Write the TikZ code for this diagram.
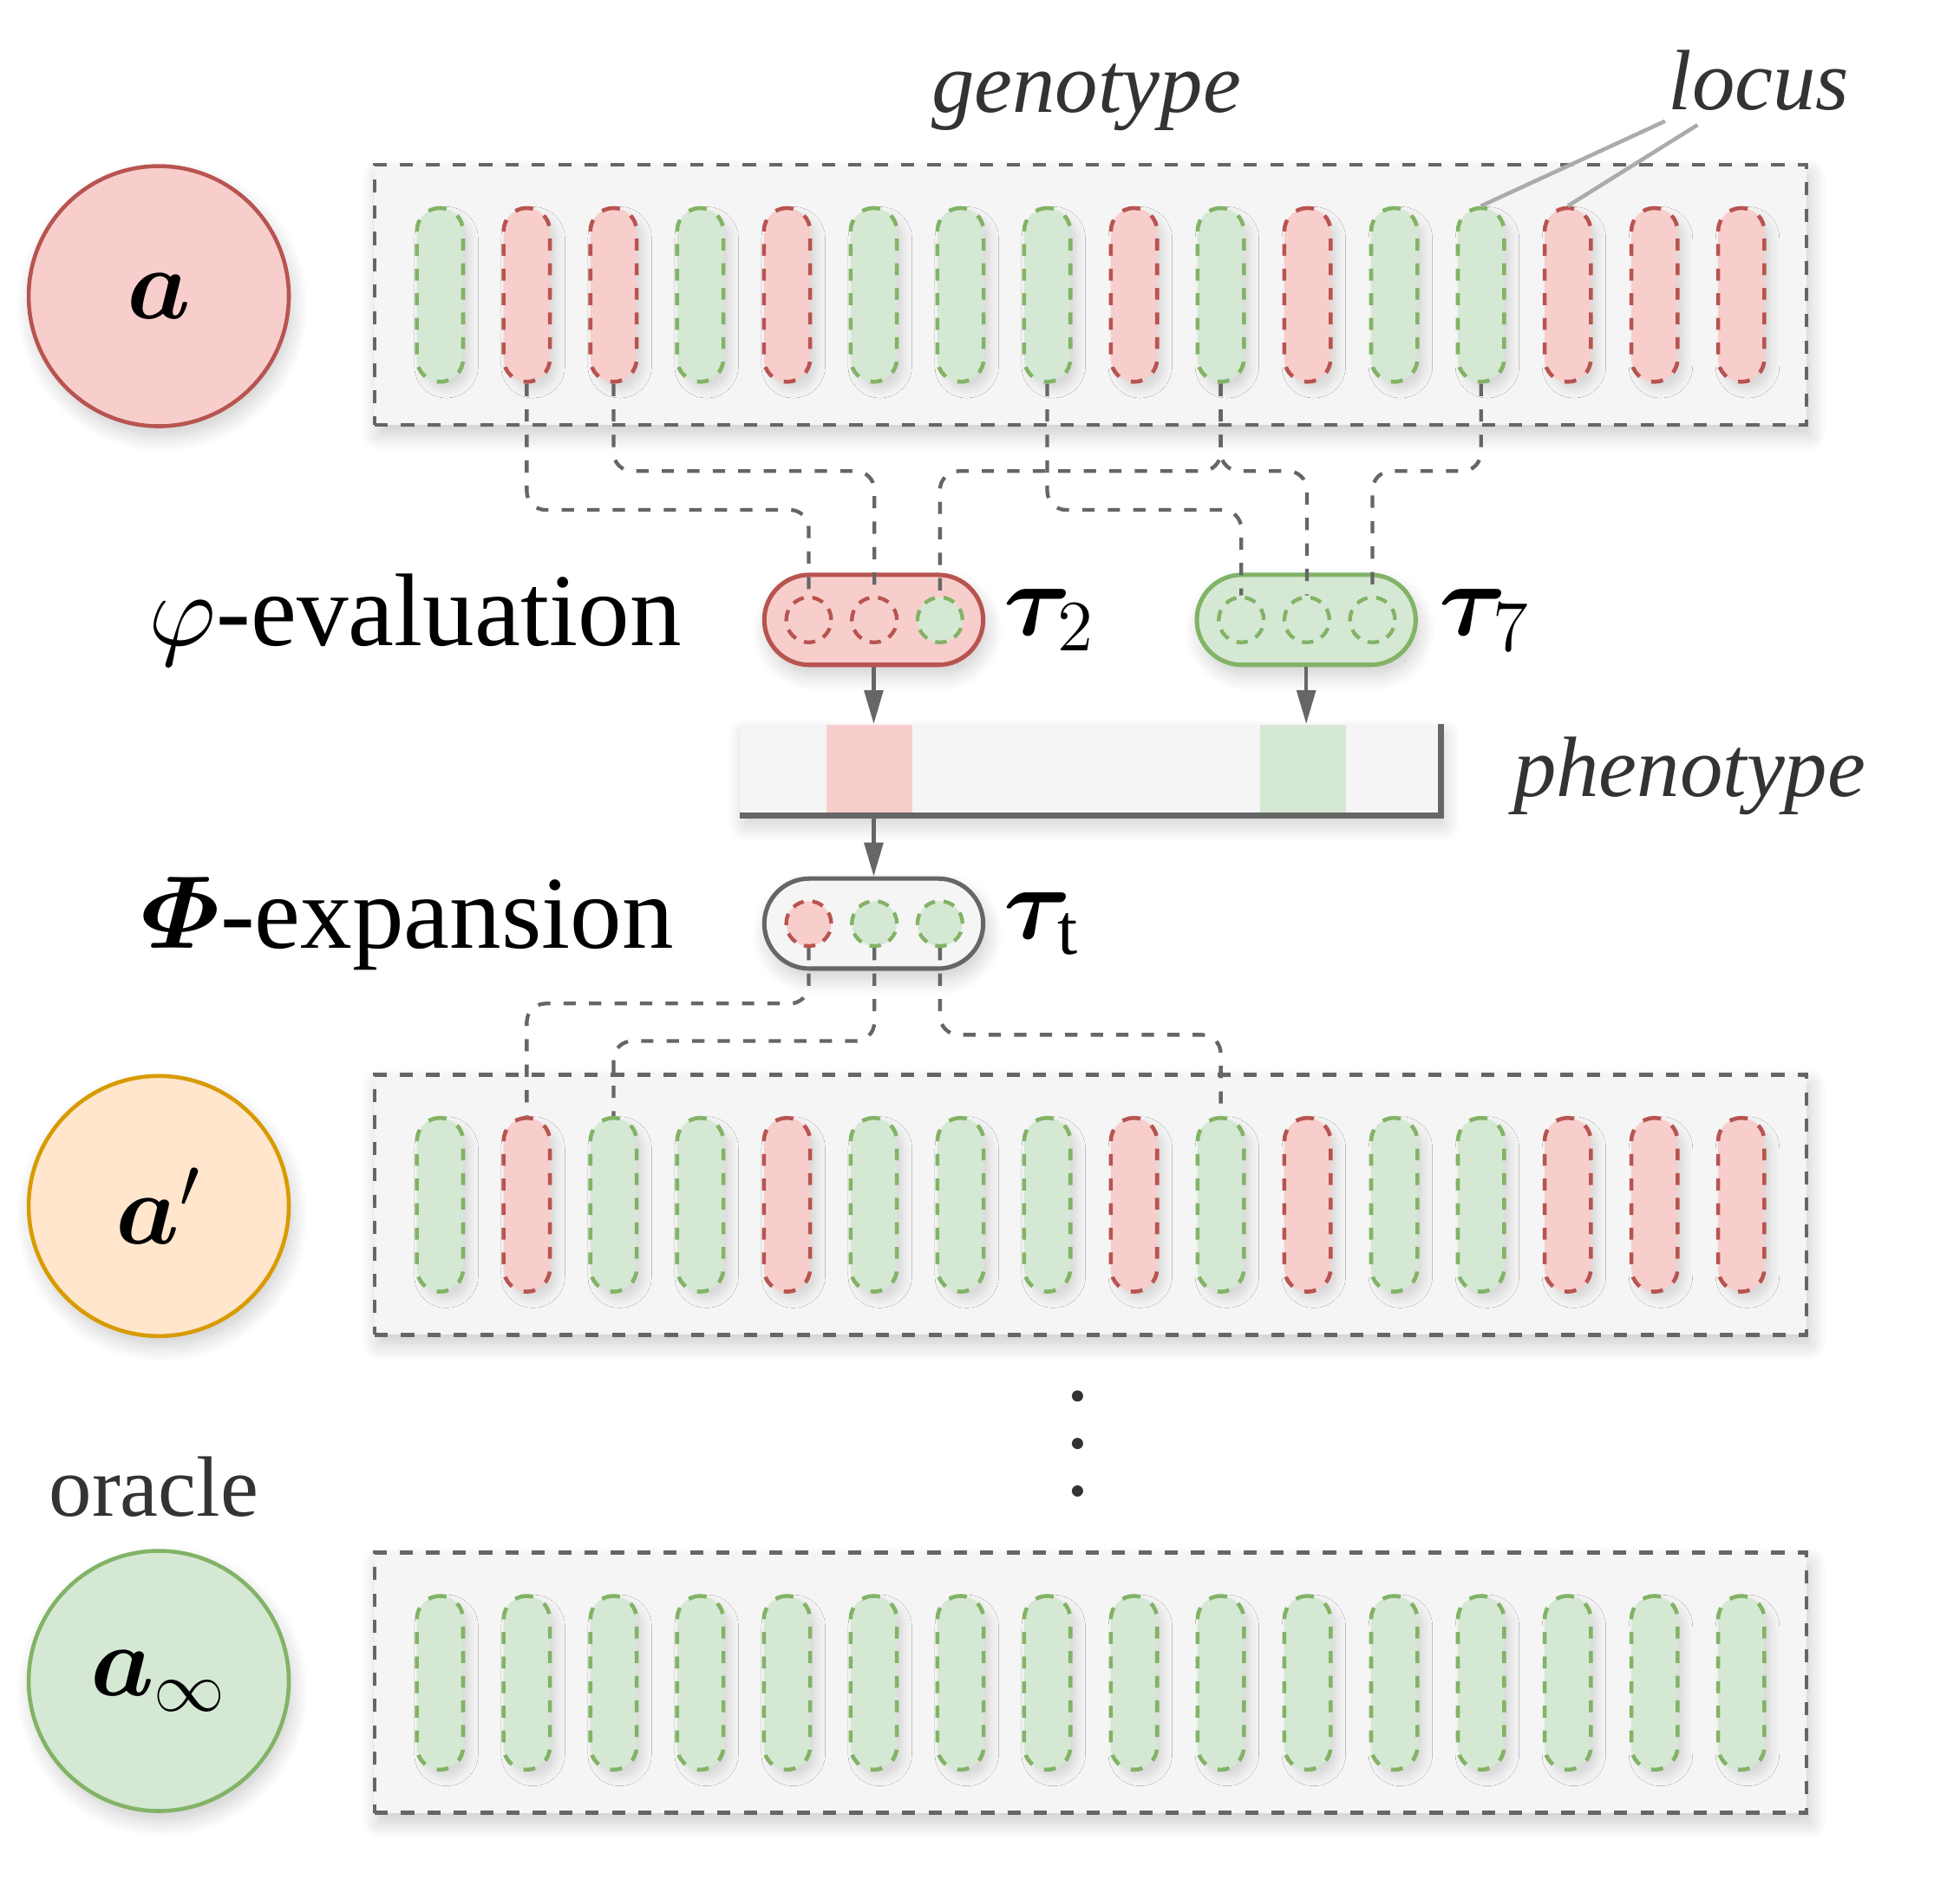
\documentclass[tikz,border=0pt]{standalone}
\usepackage{fix-cm}
\usepackage{amsmath}
\usepackage{bm}
\usepackage{fontspec}
\setmainfont{Liberation Serif}
\usetikzlibrary{positioning,arrows.meta,shadows.blur}

\DeclareFontShape{OML}{cmm}{m}{it}{<-6>cmmi5<6-7>cmmi6<7-8>cmmi7<8-9>cmmi8<9-10>cmmi9<10->cmmi10}{}
\DeclareFontShape{OMS}{cmsy}{m}{n}{<-6>cmsy5<6-7>cmsy6<7-8>cmsy7<8-9>cmsy8<9-10>cmsy9<10->cmsy10}{}

\definecolor{redfill}{HTML}{F8CECC}
\definecolor{redline}{HTML}{B85450}
\definecolor{greenfill}{HTML}{D5E8D4}
\definecolor{greenline}{HTML}{82B366}
\definecolor{orangefill}{HTML}{FFE6CC}
\definecolor{orangeline}{HTML}{D79B00}
\definecolor{grayfill}{HTML}{F5F5F5}
\definecolor{grayline}{HTML}{666666}
\definecolor{textgray}{HTML}{333333}

\begin{document}
\begin{tikzpicture}[x=0.01cm, y=0.01cm,
    soft/.style={blur shadow={shadow xshift=0.03cm, shadow yshift=-0.08cm, shadow blur radius=0.13cm, shadow blur steps=12, shadow opacity=20}},
    softer/.style={blur shadow={shadow xshift=0.05cm, shadow yshift=-0.06cm, shadow blur radius=0.07cm, shadow blur steps=6, shadow opacity=12}},
    agent/.style={circle, minimum size=2.08cm, line width=0.9pt, soft, font=\fontsize{23}{28}\selectfont},
    genome/.style={rectangle, draw=grayline, fill=grayfill, line width=0.9pt, dash pattern=on 3pt off 3pt, minimum width=11.45cm, minimum height=2.08cm, inner sep=0pt, soft},
    locus/.style={rectangle, rounded corners=0.185cm, minimum width=0.37cm, minimum height=1.39cm, inner sep=0pt, line width=0.9pt, dash pattern=on 2.7pt off 2.9pt, softer},
    locusR/.style={locus, draw=redline, fill=redfill},
    locusG/.style={locus, draw=greenline, fill=greenfill},
    tau/.style={rectangle, rounded corners=0.36cm, minimum width=1.75cm, minimum height=0.72cm, inner sep=0pt, line width=1pt, soft},
    slot/.style={circle, minimum size=0.36cm, inner sep=0pt, line width=0.85pt, dash pattern=on 2.6pt off 2pt},
    slotR/.style={slot, draw=redline, fill=redfill},
    slotG/.style={slot, draw=greenline, fill=greenfill},
    pheno/.style={rectangle, fill=grayfill, minimum width=5.59cm, minimum height=0.72cm, inner sep=0pt, soft},
    cell/.style={rectangle, minimum width=0.69cm, minimum height=0.72cm, inner sep=0pt},
    link/.style={grayline, line width=0.85pt, dash pattern=on 2.8pt off 3pt, rounded corners=0.15cm},
    arrow/.style={-{Triangle[length=0.27cm,width=0.15cm]}, grayline, line width=0.8pt},
    pointer/.style={black!33, line width=0.9pt},
    vdot/.style={circle, fill=textgray, minimum size=0.09cm, inner sep=0pt},
    big/.style={font=\fontsize{23.5}{28}\selectfont, inner sep=0pt},
    note/.style={font=\fontsize{19.5}{24}\selectfont\itshape, text=textgray, inner sep=0pt},
    tag/.style={font=\fontsize{19.5}{24}\selectfont, text=textgray, inner sep=0pt}
]
\useasboundingbox (0,0) rectangle (1568,1519);

\node[agent, draw=redline, fill=redfill] (A) at (127,1282) {$\bm{a}$};
\node[agent, draw=orangeline, fill=orangefill] (Ap) at (127,554) {$\bm{a}'$};
\node[agent, draw=greenline, fill=greenfill] (Ainf) at (127,174) {$\bm{a}_\infty$};

\node[genome] (GA) at (872.5,1283) {};
\node[genome] (GAp) at (872.5,555) {};
\node[genome] (GAinf) at (872.5,172.5) {};

\foreach \c [count=\i] in {G,R,R,G,R,G,G,G,R,G,R,G,G,R,R,R}
    \node[locus\c] (a\i) at ({352+69.4*(\i-1)},1283) {};
\foreach \c [count=\i] in {G,R,G,G,R,G,G,G,R,G,R,G,G,R,R,R}
    \node[locus\c] (b\i) at ({352+69.4*(\i-1)},555) {};
\foreach \i in {1,...,16}
    \node[locusG] (c\i) at ({352+69.4*(\i-1)},172.5) {};

\node[note, anchor=base] (geno) at (869,1429) {genotype};
\node[note, anchor=base] (loc) at (1407,1431) {locus};
\coordinate (lc1) at (1332,1422);
\coordinate (lc2) at (1358,1419);
\draw[pointer] (lc1) -- (a13.north);
\draw[pointer] (lc2) -- (a14.north);

\node[tau, draw=redline, fill=redfill] (T2) at (699,1023) {};
\node[slotR] (T2c1) at (647,1023) {};
\node[slotR] (T2c2) at (699.5,1023) {};
\node[slotG] (T2c3) at (752,1023) {};
\node[tau, draw=greenline, fill=greenfill] (T7) at (1045,1023) {};
\node[slotG] (T7c1) at (993,1023) {};
\node[slotG] (T7c2) at (1045.5,1023) {};
\node[slotG] (T7c3) at (1098,1023) {};

\node[big, left=0.64cm of T2] (eval) {$\varphi$-evaluation};
\node[big, right=0.14cm of T2] (tau2) {$\bm{\tau}_2$};
\node[big, right=0.16cm of T7] (tau7) {$\bm{\tau}_7$};

\coordinate (hi) at (0,1142);
\coordinate (lo) at (0,1111);
\draw[link] (a2.south) -- (a2.south |- lo) -- (T2c1.north |- lo) -- (T2c1.north);
\draw[link] (a3.south) -- (a3.south |- hi) -- (T2c2.north |- hi) -- (T2c2.north);
\draw[link] (a10.south) -- (a10.south |- hi) -- (T2c3.north |- hi) -- (T2c3.north);
\draw[link] (a10.south) -- (a10.south |- hi) -- (T7c2.north |- hi) -- (T7c2.north);
\draw[link] (a8.south) -- (a8.south |- lo) -- (T7c1.north |- lo) -- (T7c1.north);
\draw[link] (a13.south) -- (a13.south |- hi) -- (T7c3.north |- hi) -- (T7c3.north);

\node[pheno] (P) at (872.5,903) {};
\node[cell, fill=redfill] (P2) at (695.5,903) {};
\node[cell, fill=greenfill] (P7) at (1042.5,903) {};
\draw[grayline, line width=1.4pt] (P.north east) -- (P.south east) -- (P.south west);
\node[note, anchor=base west] (phen) at (1210,882) {phenotype};

\draw[arrow] (T2.south) -- (T2.south |- P.north);
\draw[arrow] (T7.south) -- (T7.south |- P.north);

\node[tau, draw=grayline, fill=grayfill] (Tt) at (699,780) {};
\node[slotR] (Ttc1) at (647,780) {};
\node[slotG] (Ttc2) at (699.5,780) {};
\node[slotG] (Ttc3) at (752,780) {};
\draw[arrow] (Tt.north |- P.south) -- (Tt.north);

\node[big, left=0.70cm of Tt] (expand) {$\bm{\varPhi}$-expansion};
\node[big, right=0.14cm of Tt] (taut) {$\bm{\tau}_\mathrm{t}$};

\coordinate (m1) at (0,716);
\coordinate (m2) at (0,686);
\coordinate (m3) at (0,691);
\draw[link] (Ttc1.south) -- (Ttc1.south |- m1) -- (b2.north |- m1) -- (b2.north);
\draw[link] (Ttc2.south) -- (Ttc2.south |- m2) -- (b3.north |- m2) -- (b3.north);
\draw[link] (Ttc3.south) -- (Ttc3.south |- m3) -- (b10.north |- m3) -- (b10.north);

\foreach \y [count=\k] in {402,364,326}
    \node[vdot] (v\k) at (862,\y) {};

\node[tag, anchor=base] (orc) at (123,306) {oracle};

\end{tikzpicture}
\end{document}
